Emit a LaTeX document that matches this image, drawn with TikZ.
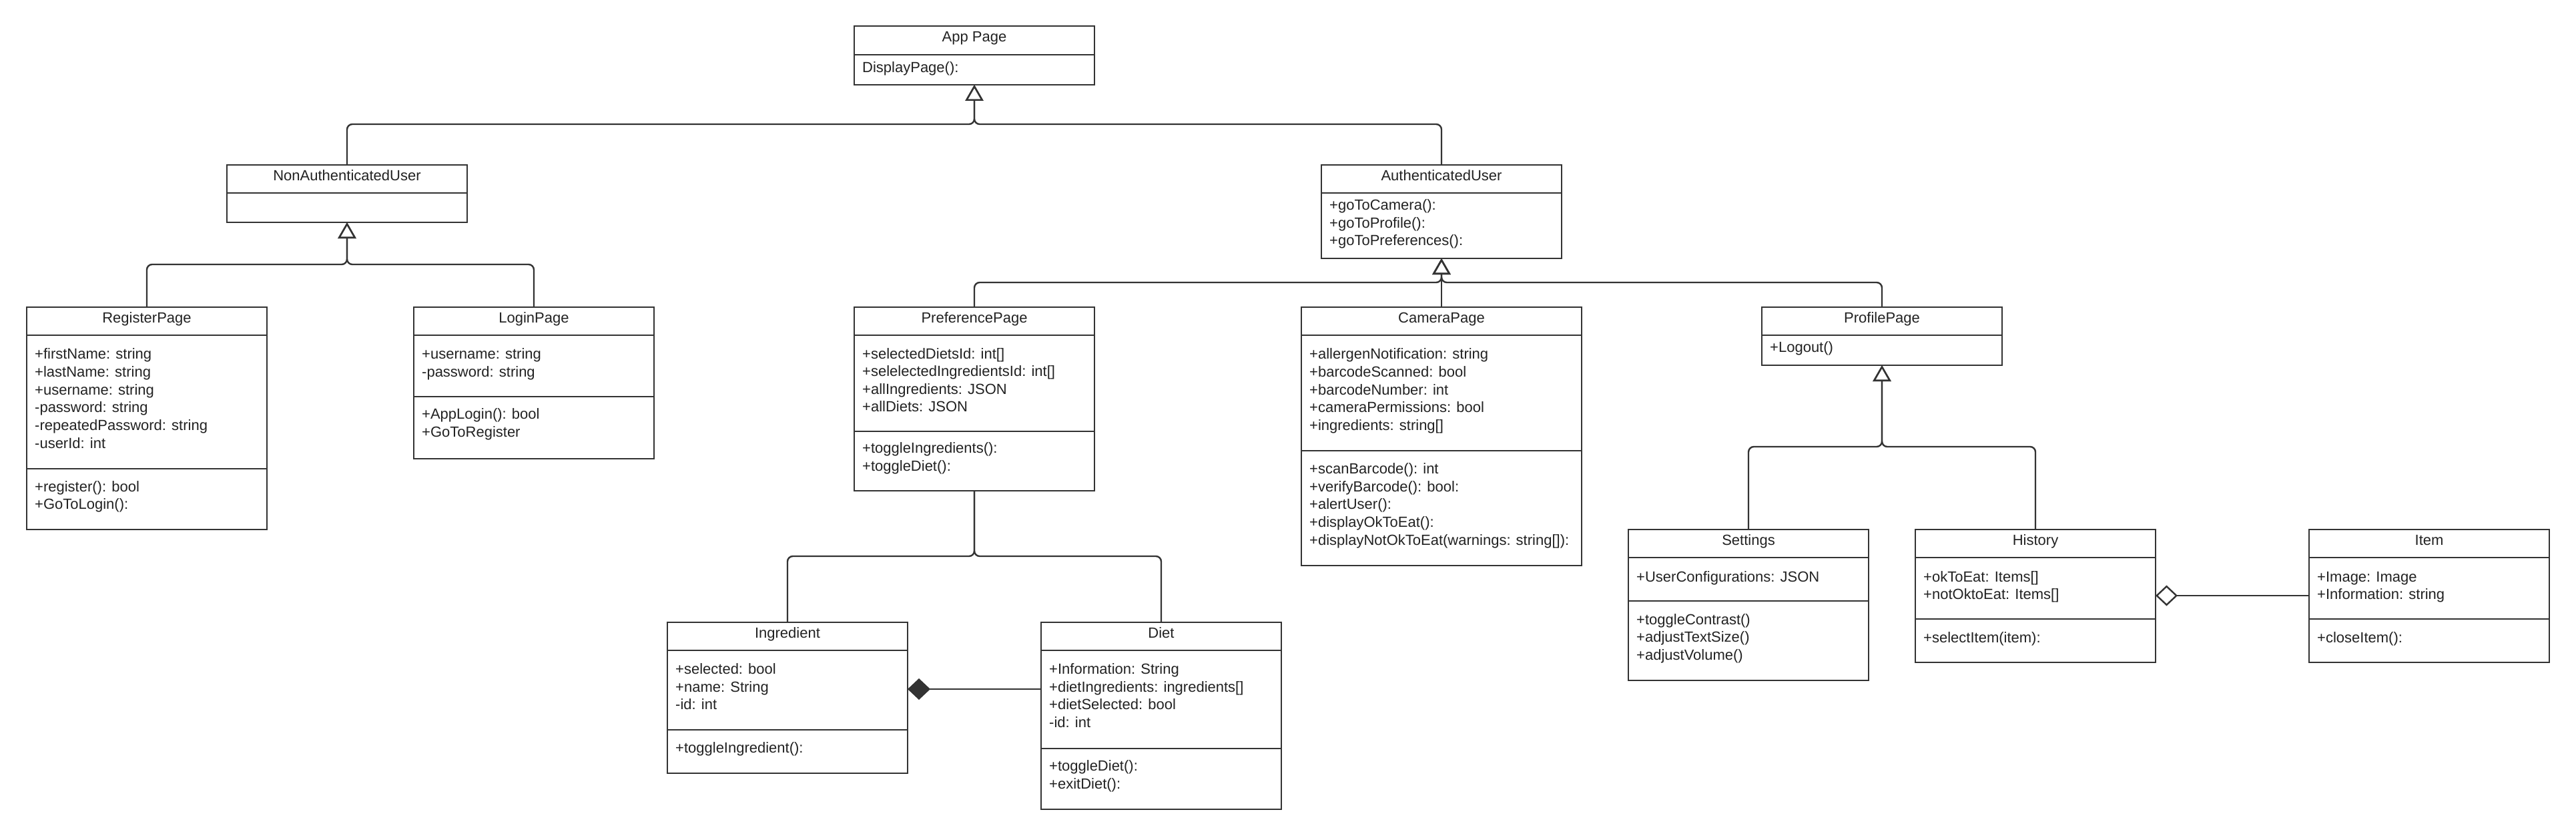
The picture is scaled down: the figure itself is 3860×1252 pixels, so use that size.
\documentclass[tikz,border=0pt]{standalone}
\usepackage{fontspec}
\setmainfont{Liberation Sans}
\usetikzlibrary{arrows.meta}
\definecolor{linec}{HTML}{333333}
\definecolor{txtc}{HTML}{222222}
\tikzset{
  classbox/.style={draw=linec, line width=2.7pt, fill=white, inner sep=0pt, outer sep=0pt, anchor=north west},
  divline/.style={draw=linec, line width=2.7pt},
  conn/.style={draw=linec, line width=2.4pt, rounded corners=8pt},
  inh/.style={-{Triangle[open, length=24pt, width=27pt]}},
  clstitle/.style={anchor=mid, inner sep=0pt, text=txtc},
  clsattr/.style={anchor=mid west, inner sep=0pt, text=txtc, yshift=-2pt},
}
\newcommand\mkclass[5]{\node[classbox, minimum width=#4, minimum height=#5] (#1) at (#2,#3) {};}
\begin{document}
\begin{tikzpicture}[x=1pt, y=-1pt, font=\fontsize{22}{26}\selectfont]
\useasboundingbox (0,0) rectangle (3860,1252);
\fill[white] (0,0) rectangle (3860,1252);

% ---- boxes ----
\mkclass{app}{1280}{39}{360}{88}
\mkclass{nonauth}{340}{247}{360}{86}
\mkclass{auth}{1980}{247}{360}{140}
\mkclass{reg}{40}{460}{360}{333}
\mkclass{login}{620}{460}{360}{227}
\mkclass{pref}{1280}{460}{360}{275}
\mkclass{cam}{1950}{460}{420}{387}
\mkclass{prof}{2640}{460}{360}{87}
\mkclass{ingr}{1000}{932}{360}{226}
\mkclass{diet}{1560}{932}{360}{280}
\mkclass{sett}{2440}{793}{360}{226}
\mkclass{hist}{2870}{793}{360}{199}
\mkclass{item}{3460}{793}{360}{199}

% ---- dividers ----
\draw[divline] (1280,82) -- (1640,82);
\draw[divline] (340,289) -- (700,289);
\draw[divline] (1980,289) -- (2340,289);
\draw[divline] (40,502) -- (400,502);
\draw[divline] (40,702) -- (400,702);
\draw[divline] (620,502) -- (980,502);
\draw[divline] (620,594) -- (980,594);
\draw[divline] (1280,502) -- (1640,502);
\draw[divline] (1280,646) -- (1640,646);
\draw[divline] (1950,502) -- (2370,502);
\draw[divline] (1950,675) -- (2370,675);
\draw[divline] (2640,502) -- (3000,502);
\draw[divline] (1000,974) -- (1360,974);
\draw[divline] (1000,1093) -- (1360,1093);
\draw[divline] (1560,974) -- (1920,974);
\draw[divline] (1560,1121) -- (1920,1121);
\draw[divline] (2440,835) -- (2800,835);
\draw[divline] (2440,900) -- (2800,900);
\draw[divline] (2870,835) -- (3230,835);
\draw[divline] (2870,927) -- (3230,927);
\draw[divline] (3460,835) -- (3820,835);
\draw[divline] (3460,927) -- (3820,927);

% ---- texts ----
\node[clstitle] (app-t) at (1460,60) {App Page};
\node[clsattr] (app-m1) at (1292,104) {DisplayPage():};

\node[clstitle] (nonauth-t) at (520,268) {NonAuthenticatedUser};

\node[clstitle] (auth-t) at (2160,268) {AuthenticatedUser};
\node[clsattr] (auth-m1) at (1992,310) {+goToCamera():};
\node[clsattr] (auth-m2) at (1992,337) {+goToProfile():};
\node[clsattr] (auth-m3) at (1992,363) {+goToPreferences():};

\node[clstitle] (reg-t) at (220,481) {RegisterPage};
\node[clsattr] (reg-a1) at (52,533) {+firstName: string};
\node[clsattr] (reg-a2) at (52,560) {+lastName: string};
\node[clsattr] (reg-a3) at (52,587) {+username: string};
\node[clsattr] (reg-a4) at (52,613) {-password: string};
\node[clsattr] (reg-a5) at (52,640) {-repeatedPassword: string};
\node[clsattr] (reg-a6) at (52,667) {-userId: int};
\node[clsattr] (reg-m1) at (52,732) {+register(): bool};
\node[clsattr] (reg-m2) at (52,758) {+GoToLogin():};

\node[clstitle] (login-t) at (800,481) {LoginPage};
\node[clsattr] (login-a1) at (632,533) {+username: string};
\node[clsattr] (login-a2) at (632,560) {-password: string};
\node[clsattr] (login-m1) at (632,623) {+AppLogin(): bool};
\node[clsattr] (login-m2) at (632,650) {+GoToRegister};

\node[clstitle] (pref-t) at (1460,481) {PreferencePage};
\node[clsattr] (pref-a1) at (1292,533) {+selectedDietsId: int[]};
\node[clsattr] (pref-a2) at (1292,559) {+selelectedIngredientsId: int[]};
\node[clsattr] (pref-a3) at (1292,586) {+allIngredients: JSON};
\node[clsattr] (pref-a4) at (1292,612) {+allDiets: JSON};
\node[clsattr] (pref-m1) at (1292,674) {+toggleIngredients():};
\node[clsattr] (pref-m2) at (1292,701) {+toggleDiet():};

\node[clstitle] (cam-t) at (2160,481) {CameraPage};
\node[clsattr] (cam-a1) at (1962,533) {+allergenNotification: string};
\node[clsattr] (cam-a2) at (1962,560) {+barcodeScanned: bool};
\node[clsattr] (cam-a3) at (1962,587) {+barcodeNumber: int};
\node[clsattr] (cam-a4) at (1962,613) {+cameraPermissions: bool};
\node[clsattr] (cam-a5) at (1962,640) {+ingredients: string[]};
\node[clsattr] (cam-m1) at (1962,705) {+scanBarcode(): int};
\node[clsattr] (cam-m2) at (1962,732) {+verifyBarcode(): bool:};
\node[clsattr] (cam-m3) at (1962,758) {+alertUser():};
\node[clsattr] (cam-m4) at (1962,785) {+displayOkToEat():};
\node[clsattr] (cam-m5) at (1962,812) {+displayNotOkToEat(warnings: string[]):};

\node[clstitle] (prof-t) at (2820,481) {ProfilePage};
\node[clsattr] (prof-m1) at (2652,523) {+Logout()};

\node[clstitle] (ingr-t) at (1180,953) {Ingredient};
\node[clsattr] (ingr-a1) at (1012,1005) {+selected: bool};
\node[clsattr] (ingr-a2) at (1012,1032) {+name: String};
\node[clsattr] (ingr-a3) at (1012,1058) {-id: int};
\node[clsattr] (ingr-m1) at (1012,1123) {+toggleIngredient():};

\node[clstitle] (diet-t) at (1740,953) {Diet};
\node[clsattr] (diet-a1) at (1572,1005) {+Information: String};
\node[clsattr] (diet-a2) at (1572,1032) {+dietIngredients: ingredients[]};
\node[clsattr] (diet-a3) at (1572,1058) {+dietSelected: bool};
\node[clsattr] (diet-a4) at (1572,1085) {-id: int};
\node[clsattr] (diet-m1) at (1572,1150) {+toggleDiet():};
\node[clsattr] (diet-m2) at (1572,1177) {+exitDiet():};

\node[clstitle] (sett-t) at (2620,814) {Settings};
\node[clsattr] (sett-a1) at (2452,867) {+UserConfigurations: JSON};
\node[clsattr] (sett-m1) at (2452,931) {+toggleContrast()};
\node[clsattr] (sett-m2) at (2452,957) {+adjustTextSize()};
\node[clsattr] (sett-m3) at (2452,984) {+adjustVolume()};

\node[clstitle] (hist-t) at (3050,814) {History};
\node[clsattr] (hist-a1) at (2882,867) {+okToEat: Items[]};
\node[clsattr] (hist-a2) at (2882,893) {+notOktoEat: Items[]};
\node[clsattr] (hist-m1) at (2882,958) {+selectItem(item):};

\node[clstitle] (item-t) at (3640,814) {Item};
\node[clsattr] (item-a1) at (3472,867) {+Image: Image};
\node[clsattr] (item-a2) at (3472,893) {+Information: string};
\node[clsattr] (item-m1) at (3472,958) {+closeItem():};

% ---- connectors ----
\draw[conn, inh] (nonauth.north) |- (app.south |- 0,186) -- (app.south);
\draw[conn, inh] (auth.north) |- (app.south |- 0,186) -- (app.south);

\draw[conn, inh] (reg.north) |- (nonauth.south |- 0,396) -- (nonauth.south);
\draw[conn, inh] (login.north) |- (nonauth.south |- 0,396) -- (nonauth.south);

\draw[conn, inh] (pref.north) |- (auth.south |- 0,423) -- (auth.south);
\draw[conn, inh] (cam.north) -- (auth.south);
\draw[conn, inh] (prof.north) |- (auth.south |- 0,423) -- (auth.south);

\draw[conn] (ingr.north) |- (pref.south |- 0,833) -- (pref.south);
\draw[conn] (diet.north) |- (pref.south |- 0,833) -- (pref.south);

\draw[conn, inh] (sett.north) |- (prof.south |- 0,669) -- (prof.south);
\draw[conn, inh] (hist.north) |- (prof.south |- 0,669) -- (prof.south);

\draw[conn, -{Diamond[length=34pt, width=32pt]}, fill=linec] (diet.west |- 0,1032) -- (ingr.east |- 0,1032);
\draw[conn, -{Diamond[open, length=33pt, width=31pt]}] (item.west |- 0,892) -- (hist.east |- 0,892);
\end{tikzpicture}
\end{document}
